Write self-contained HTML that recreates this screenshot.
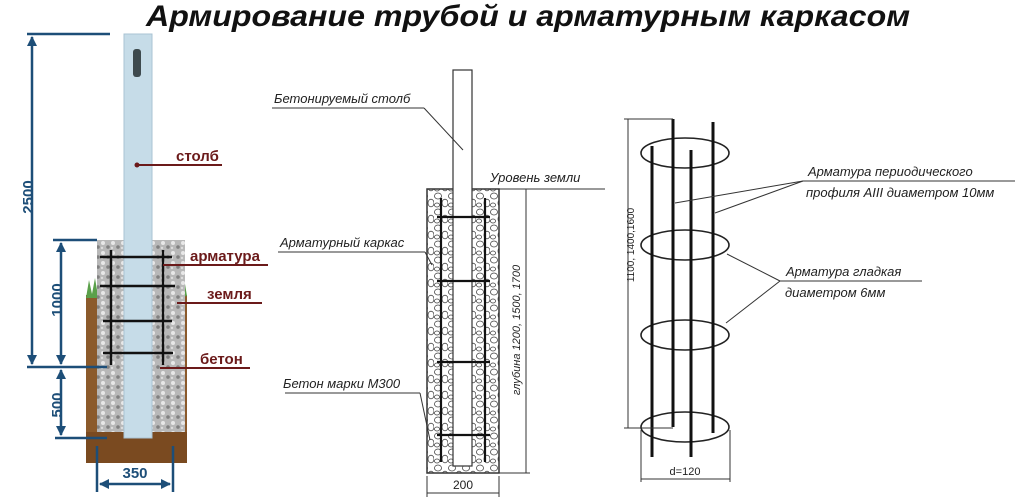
<!DOCTYPE html>
<html><head><meta charset="utf-8"><style>
html,body{margin:0;padding:0;background:#fff;width:1024px;height:504px;overflow:hidden}
svg{display:block}
.t{font-family:"Liberation Sans","DejaVu Sans",sans-serif}
.ci{font-family:"Liberation Sans","DejaVu Sans",sans-serif;font-style:italic;font-size:13px;fill:#222}
</style></head><body>
<svg width="1024" height="504" viewBox="0 0 1024 504" xmlns="http://www.w3.org/2000/svg">
<defs>
<pattern id="grav" width="10" height="10" patternUnits="userSpaceOnUse">
<rect width="10" height="10" fill="#b8b8b8"/><circle cx="3" cy="3" r="2" fill="#e8e8e8"/><circle cx="8" cy="7" r="1.8" fill="#808080"/><circle cx="2" cy="8" r="1.2" fill="#dcdcdc"/></pattern>
<pattern id="peb" width="14" height="16" patternUnits="userSpaceOnUse">
<rect width="14" height="16" fill="#fff"/><ellipse cx="4" cy="4" rx="3.5" ry="3" fill="none" stroke="#444" stroke-width="0.8"/><ellipse cx="11" cy="11" rx="3" ry="3.8" fill="none" stroke="#444" stroke-width="0.8"/><ellipse cx="3" cy="13" rx="2.5" ry="2" fill="none" stroke="#444" stroke-width="0.8"/></pattern>
<marker id="ab" markerWidth="10" markerHeight="10" refX="9" refY="5" orient="auto-start-reverse" markerUnits="userSpaceOnUse"><path d="M0,0 L10,5 L0,10 Z" fill="#1d4e78"/></marker>
</defs>
<text class="t" x="146" y="26" font-size="30" font-weight="bold" font-style="italic" fill="#111" textLength="764" lengthAdjust="spacingAndGlyphs">Армирование трубой и арматурным каркасом</text>

<!-- left diagram -->
<rect x="86" y="295" width="101" height="168" fill="#8b5a2b"/>
<rect x="86" y="432" width="101" height="31" fill="#7a4a20"/>
<path d="M86,298 l3,-18 l3,14 l3,-16 l3,18 l2,-12 l-1,14 Z M175,298 l3,-18 l3,14 l3,-16 l3,18 Z" fill="#5aa04a"/>
<rect x="97" y="240" width="88" height="192" fill="url(#grav)"/>
<rect x="124" y="34" width="28" height="404" fill="#c6dce8" stroke="#a9c3d3"/>
<rect x="133" y="49" width="8" height="28" rx="3" fill="#3e4a4e"/>
<g stroke="#111" stroke-width="2.5">
<line x1="100" y1="257" x2="172" y2="257"/><line x1="100" y1="286" x2="175" y2="286"/><line x1="103" y1="321" x2="172" y2="321"/><line x1="103" y1="353" x2="173" y2="353"/>
<line x1="111" y1="250" x2="111" y2="365"/><line x1="163" y1="250" x2="163" y2="365"/></g>
<g stroke="#1d4e78" stroke-width="2.5" fill="none">
<line x1="27" y1="34" x2="110" y2="34"/><line x1="32" y1="37" x2="32" y2="364" marker-start="url(#ab)" marker-end="url(#ab)"/>
<line x1="53" y1="240" x2="97" y2="240"/><line x1="61" y1="243" x2="61" y2="364" marker-start="url(#ab)" marker-end="url(#ab)"/>
<line x1="27" y1="367" x2="107" y2="367"/><line x1="61" y1="370" x2="61" y2="435" marker-start="url(#ab)" marker-end="url(#ab)"/>
<line x1="55" y1="438" x2="107" y2="438"/>
<line x1="97" y1="446" x2="97" y2="492"/><line x1="173" y1="446" x2="173" y2="492"/>
<line x1="100" y1="484" x2="170" y2="484" marker-start="url(#ab)" marker-end="url(#ab)"/></g>
<g class="t" font-weight="bold" font-size="15" fill="#1d4e78">
<text transform="translate(33,197) rotate(-90)" text-anchor="middle">2500</text>
<text transform="translate(62,300) rotate(-90)" text-anchor="middle">1000</text>
<text transform="translate(62,405) rotate(-90)" text-anchor="middle">500</text>
<text x="135" y="478" text-anchor="middle">350</text></g>
<g stroke="#6b1a1a" stroke-width="2" fill="none">
<line x1="137" y1="165" x2="222" y2="165"/><line x1="163" y1="265" x2="268" y2="265"/><line x1="177" y1="303" x2="262" y2="303"/><line x1="160" y1="368" x2="250" y2="368"/></g>
<circle cx="137" cy="165" r="2.5" fill="#6b1a1a"/>
<g class="t" font-weight="bold" font-size="15" fill="#6b1a1a">
<text x="176" y="161">столб</text><text x="190" y="261">арматура</text><text x="207" y="299">земля</text><text x="200" y="364">бетон</text></g>

<!-- middle diagram -->
<rect x="427" y="189" width="72" height="284" fill="url(#peb)" stroke="#333" stroke-width="1.5"/>
<rect x="453" y="70" width="19" height="396" fill="#fff" stroke="#333" stroke-width="1.2"/>
<g stroke="#111" stroke-width="2.2">
<line x1="437" y1="217" x2="490" y2="217"/><line x1="437" y1="281" x2="490" y2="281"/><line x1="437" y1="362" x2="490" y2="362"/><line x1="437" y1="435" x2="490" y2="435"/>
<line x1="441" y1="198" x2="441" y2="462"/><line x1="485" y1="198" x2="485" y2="462"/></g>
<g stroke="#333" stroke-width="1" fill="none">
<line x1="499" y1="189" x2="605" y2="189"/>
<line x1="526" y1="189" x2="526" y2="473"/><line x1="499" y1="473" x2="530" y2="473"/>
<line x1="427" y1="476" x2="427" y2="497"/><line x1="499" y1="476" x2="499" y2="497"/><line x1="427" y1="493" x2="499" y2="493"/>
<line x1="272" y1="108" x2="424" y2="108"/><line x1="424" y1="108" x2="463" y2="150"/>
<line x1="278" y1="252" x2="425" y2="252"/><line x1="425" y1="252" x2="432" y2="265"/>
<line x1="285" y1="393" x2="420" y2="393"/><line x1="420" y1="393" x2="430" y2="440"/></g>
<text class="ci" x="274" y="103">Бетонируемый столб</text>
<text class="ci" x="490" y="182">Уровень земли</text>
<text class="ci" x="280" y="247">Арматурный каркас</text>
<text class="ci" x="283" y="388">Бетон марки М300</text>
<text class="t" transform="translate(520,330) rotate(-90)" text-anchor="middle" font-size="11" fill="#222" font-style="italic">глубина 1200, 1500, 1700</text>
<text class="t" x="463" y="489" text-anchor="middle" font-size="12" fill="#222">200</text>

<!-- right diagram -->
<g stroke="#222" stroke-width="1.6" fill="none">
<ellipse cx="685" cy="153" rx="44" ry="15"/><ellipse cx="685" cy="245" rx="44" ry="15"/><ellipse cx="685" cy="335" rx="44" ry="15"/><ellipse cx="685" cy="427" rx="44" ry="15"/></g>
<g stroke="#111" stroke-width="3">
<line x1="673" y1="119" x2="673" y2="427"/><line x1="713" y1="122" x2="713" y2="433"/><line x1="652" y1="146" x2="652" y2="457"/><line x1="691" y1="150" x2="691" y2="457"/></g>
<g stroke="#333" stroke-width="1" fill="none">
<line x1="628" y1="119" x2="628" y2="428"/><line x1="624" y1="119" x2="673" y2="119"/><line x1="624" y1="428" x2="673" y2="428"/>
<line x1="641" y1="430" x2="641" y2="482"/><line x1="730" y1="430" x2="730" y2="482"/><line x1="641" y1="479" x2="730" y2="479"/>
<line x1="803" y1="181" x2="1015" y2="181"/><line x1="803" y1="181" x2="675" y2="203"/><line x1="803" y1="181" x2="715" y2="213"/>
<line x1="780" y1="281" x2="922" y2="281"/><line x1="780" y1="281" x2="727" y2="254"/><line x1="780" y1="281" x2="726" y2="323"/></g>
<text class="t" transform="translate(634,245) rotate(-90)" text-anchor="middle" font-size="10" fill="#222">1100, 1400,1600</text>
<text class="t" x="685" y="475" text-anchor="middle" font-size="11" fill="#222">d=120</text>
<text class="ci" x="808" y="176">Арматура периодического</text>
<text class="ci" x="806" y="197">профиля AIII диаметром 10мм</text>
<text class="ci" x="786" y="276">Арматура гладкая</text>
<text class="ci" x="785" y="297">диаметром 6мм</text>
</svg>
</body></html>
